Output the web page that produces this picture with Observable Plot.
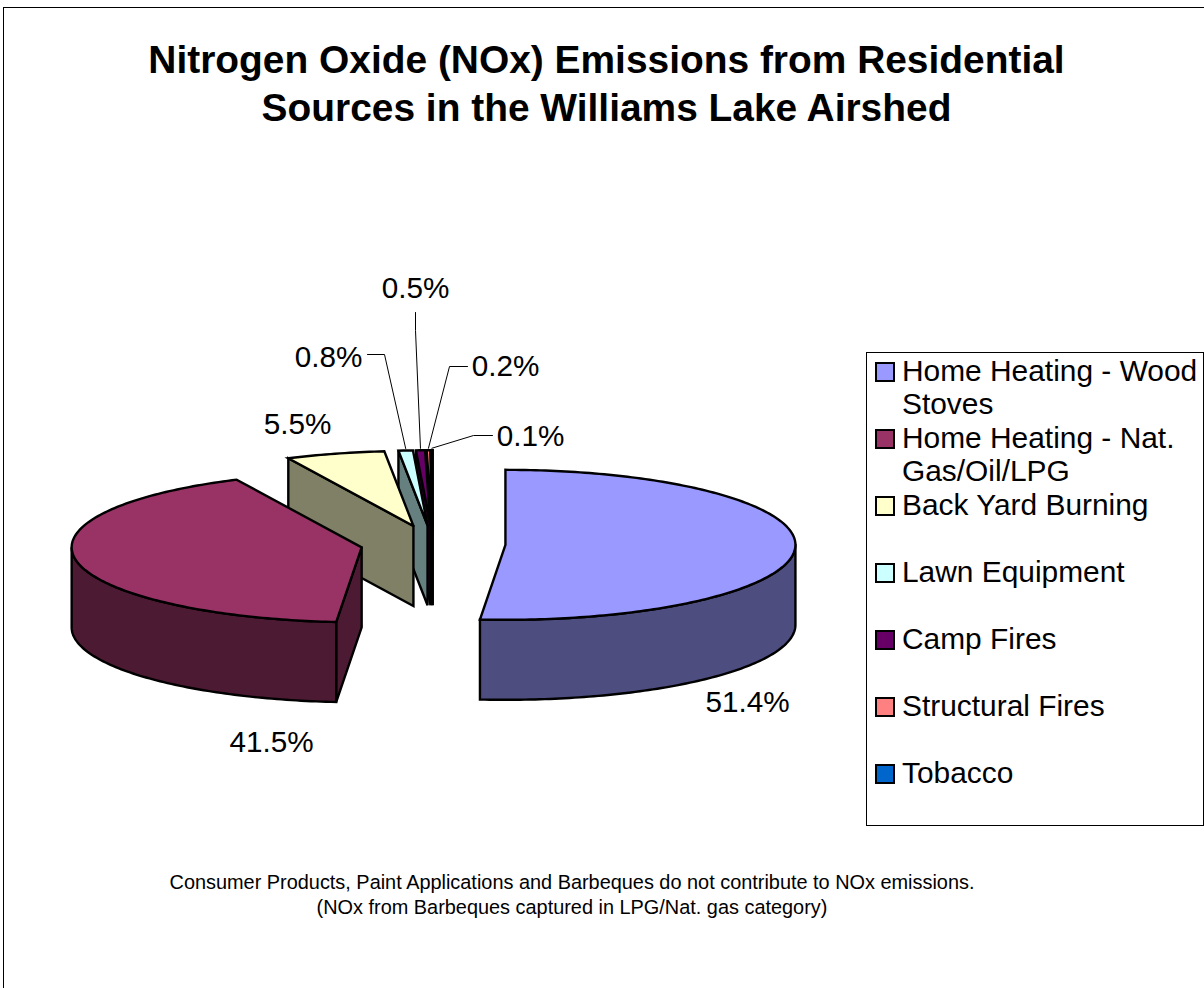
<!DOCTYPE html>
<html>
<head>
<meta charset="utf-8">
<script src="https://cdn.jsdelivr.net/npm/d3@7"></script>
<script src="https://cdn.jsdelivr.net/npm/@observablehq/plot@0.6"></script>
<style>
  html, body { margin: 0; padding: 0; background: #fff; }
  body { width: 1204px; height: 988px; overflow: hidden; position: relative; font-family: "Liberation Sans", Arial, sans-serif; color: #000; }
  #chart { position: absolute; left: 0; top: 0; }
  #frame { position: absolute; left: 3px; top: 7px; right: -2px; bottom: -2px; border-left: 1px solid #000; border-top: 1px solid #000; }
  #title { position: absolute; left: 0; top: 36px; width: 1213px; text-align: center; font-weight: bold; font-size: 38.9px; line-height: 48px; }
  #caption { position: absolute; left: 0; top: 870px; width: 1144px; text-align: center; font-size: 19.9px; line-height: 25px; }
  #legend { position: absolute; left: 866px; top: 352px; width: 336px; height: 472px; border: 1px solid #000; background: #fff; }
  .item { position: absolute; left: 0; right: 0; }
  .swatch { position: absolute; left: 8px; top: 8px; width: 16px; height: 16px; border: 2px solid #000; }
  .name { position: absolute; left: 35px; top: 0; width: 300px; font-size: 29.9px; line-height: 33px; white-space: pre-line; }
</style>
</head>
<body>
<div id="chart"></div>
<div id="frame"></div>
<div id="title">Nitrogen Oxide (NOx) Emissions from Residential<br>Sources in the Williams Lake Airshed</div>
<div id="legend"></div>
<div id="caption">Consumer Products, Paint Applications and Barbeques do not contribute to NOx emissions.<br>(NOx from Barbeques captured in LPG/Nat. gas category)</div>
<script>
const categories = ["Home Heating - Wood\nStoves", "Home Heating - Nat.\nGas/Oil/LPG", "Back Yard Burning", "Lawn Equipment", "Camp Fires", "Structural Fires", "Tobacco"];
const shares = [51.4, 41.5, 5.5, 0.8, 0.5, 0.2, 0.1];
const topColors = ["#9999ff", "#993366", "#ffffcc", "#ccffff", "#660066", "#ff8080", "#0066cc"];
const wallColors = ["#4d4d80", "#4d1a33", "#808066", "#668080", "#330033", "#804040", "#003366"];

// Pie projection in chart units
const pie = {cx: 432.5, cy: 543.5, rx: 290, ry: 75, depth: 80, explode: 72.5};
// Label placement (label anchor, then the leader elbow when the label has one)
const placement = [
  {x: 747, y: 702},
  {x: 271, y: 742},
  {x: 297, y: 424},
  {x: 328, y: 357, elbow: [[367, 354], [384, 354]]},
  {x: 415, y: 288, elbow: [[415, 312], [415, 330]]},
  {x: 505, y: 366, elbow: [[467, 366], [449, 366]]},
  {x: 530, y: 436, elbow: [[492, 435], [473, 435]]}
];

const rad = d => d * Math.PI / 180;
const total = d3.sum(shares);
let running = 0;
const slices = shares.map((share, i) => {
  const a1 = running / total * 360;
  running += share;
  const a2 = running / total * 360;
  const mid = (a1 + a2) / 2;
  return {
    i, share, a1, a2, mid,
    ox: pie.cx + pie.explode * Math.sin(rad(mid)),
    oy: pie.cy - pie.explode * (pie.ry / pie.rx) * Math.cos(rad(mid))
  };
});
const rim = (s, a) => [s.ox + pie.rx * Math.sin(rad(a)), s.oy - pie.ry * Math.cos(rad(a))];
const arc = (s, a1, a2) => {
  const n = Math.max(2, Math.ceil((a2 - a1) / 1));
  return d3.range(n + 1).map(k => rim(s, a1 + (a2 - a1) * k / n));
};
const close = pts => [...pts, pts[0]];
const drop = p => [p[0], p[1] + pie.depth];

const polygon = (pts, fill, width = 2.4) => Plot.line(close(pts), {
  x: d => d[0], y: d => d[1], fill, stroke: "#000", strokeWidth: width,
  strokeLinejoin: "miter", strokeMiterlimit: 4, curve: "linear"
});

const marks = [];
// back slices first, the large front slices last
[6, 5, 4, 3, 2, 1, 0].forEach(i => {
  const s = slices[i];
  const apex = [s.ox, s.oy];
  // side faces of the cut, visible when they face the viewer
  if (Math.sin(rad(s.a1)) < -1e-6) {
    const p = rim(s, s.a1);
    marks.push(polygon([apex, p, drop(p), drop(apex)], wallColors[i]));
  }
  if (Math.sin(rad(s.a2)) > 1e-6) {
    const p = rim(s, s.a2);
    marks.push(polygon([apex, p, drop(p), drop(apex)], wallColors[i]));
  }
  // outer wall: front half of the ellipse
  const w1 = Math.max(s.a1, 90), w2 = Math.min(s.a2, 270);
  if (w2 > w1) {
    const top = arc(s, w1, w2);
    marks.push(polygon([...top, ...top.map(drop).reverse()], wallColors[i]));
  }
  // top face
  marks.push(polygon([apex, ...arc(s, s.a1, s.a2)], topColors[i]));
});

// leaders
slices.forEach((s, i) => {
  const el = placement[i].elbow;
  if (!el) return;
  const end = rim(s, s.mid);
  marks.push(Plot.line([...el, [end[0], end[1] - 2]], {
    x: d => d[0], y: d => d[1], stroke: "#000", strokeWidth: 1, curve: "linear"
  }));
});

// percentage labels
const labels = slices.map((s, i) => ({text: s.share.toFixed(1) + "%", x: placement[i].x, y: placement[i].y}));
marks.push(Plot.text(labels, {
  x: "x", y: "y", text: "text", fontSize: 29.7, fill: "#000",
  fontFamily: "Liberation Sans", textAnchor: "middle", lineAnchor: "middle"
}));

const chart = Plot.plot({
  width: 1204, height: 988, margin: 0,
  x: {domain: [0, 1204], range: [0, 1204], axis: null},
  y: {domain: [0, 988], range: [0, 988], axis: null},
  style: {background: "transparent"},
  marks
});
document.getElementById("chart").append(chart);

// legend
const legend = document.getElementById("legend");
categories.forEach((c, i) => {
  const item = document.createElement("div");
  item.className = "item";
  item.style.top = (1 + i * 67) + "px";
  item.innerHTML = `<div class="swatch" style="background:${topColors[i]}"></div>`;
  const name = document.createElement("div");
  name.className = "name";
  name.textContent = c;
  item.append(name);
  legend.append(item);
});
</script>
</body>
</html>
